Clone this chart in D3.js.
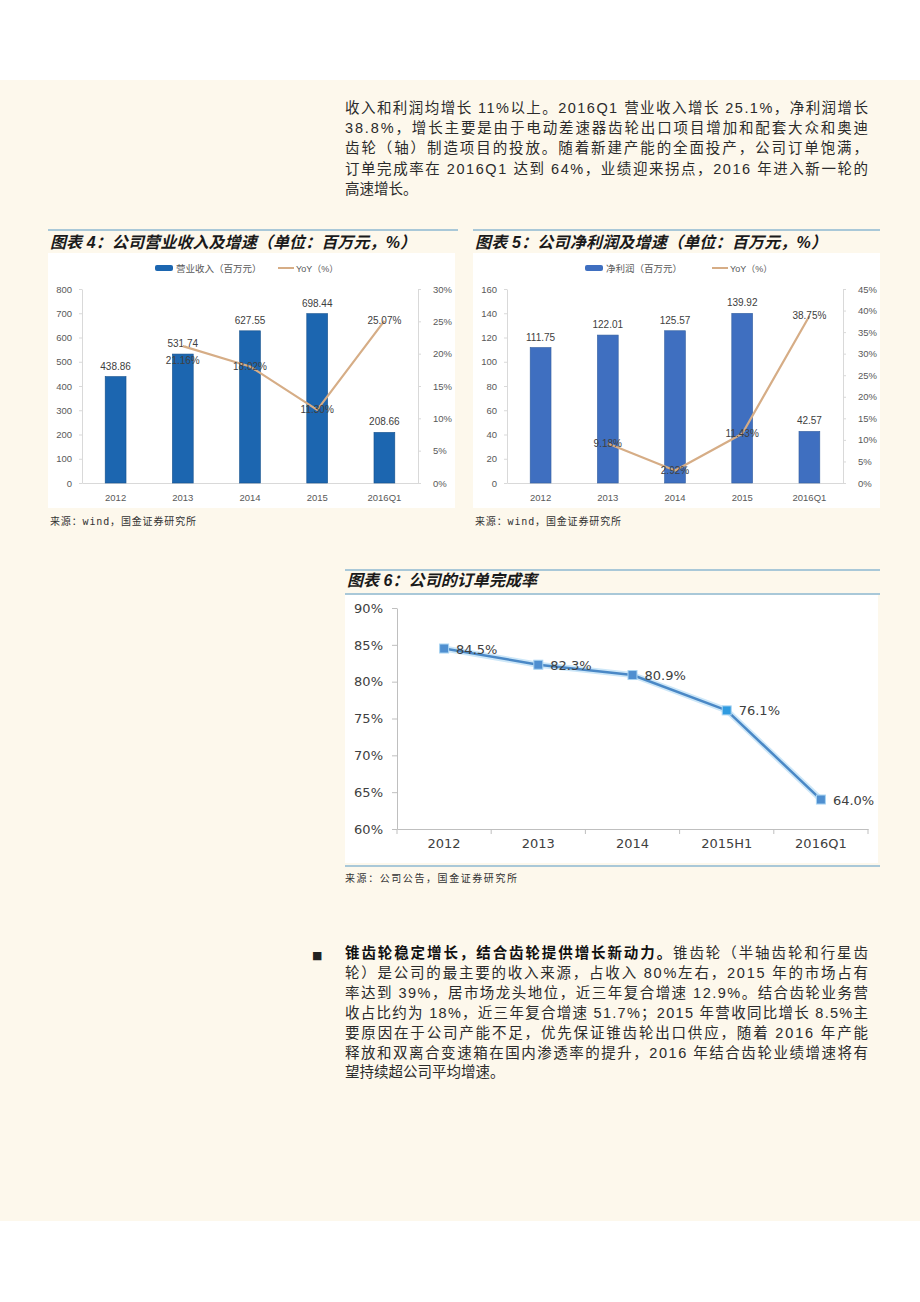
<!DOCTYPE html>
<html><head><meta charset="utf-8">
<script src="https://cdn.jsdelivr.net/npm/d3@7"></script>
<style>body{margin:0;background:#fff}svg{display:block}</style>
</head><body><svg id="page" width="920" height="1302"></svg>
<script>
// ---------- data ----------
const revCats = ["2012","2013","2014","2015","2016Q1"];
const revValues = [438.86, 531.74, 627.55, 698.44, 208.66];
const revYoY = [null, 21.16, 18.02, 11.30, 25.07];
const revLeftTicks = [0,100,200,300,400,500,600,700,800];
const revRightTicks = [0,5,10,15,20,25,30];

const profitCats = ["2012","2013","2014","2015","2016Q1"];
const profitValues = [111.75, 122.01, 125.57, 139.92, 42.57];
const profitYoY = [null, 9.18, 2.92, 11.43, 38.75];
const profitLeftTicks = [0,20,40,60,80,100,120,140,160];
const profitRightTicks = [0,5,10,15,20,25,30,35,40,45];

const orderCats = ["2012","2013","2014","2015H1","2016Q1"];
const orderRate = [84.5, 82.3, 80.9, 76.1, 64.0];
const orderTicks = [60,65,70,75,80,85,90];

const paraTop = [
  "收入和利润均增长 11%以上。2016Q1 营业收入增长 25.1%，净利润增长",
  "38.8%，增长主要是由于电动差速器齿轮出口项目增加和配套大众和奥迪",
  "齿轮（轴）制造项目的投放。随着新建产能的全面投产，公司订单饱满，",
  "订单完成率在 2016Q1 达到 64%，业绩迎来拐点，2016 年进入新一轮的",
  "高速增长。"
];
const bulletHead = "锥齿轮稳定增长，结合齿轮提供增长新动力。";
const paraBullet = [
  "锥齿轮（半轴齿轮和行星齿",
  "轮）是公司的最主要的收入来源，占收入 80%左右，2015 年的市场占有",
  "率达到 39%，居市场龙头地位，近三年复合增速 12.9%。结合齿轮业务营",
  "收占比约为 18%，近三年复合增速 51.7%；2015 年营收同比增长 8.5%主",
  "要原因在于公司产能不足，优先保证锥齿轮出口供应，随着 2016 年产能",
  "释放和双离合变速箱在国内渗透率的提升，2016 年结合齿轮业绩增速将有",
  "望持续超公司平均增速。"
];

// ---------- page ----------
const svg = d3.select("#page");
const CJK = "'Liberation Sans','Noto Sans CJK SC',sans-serif";
const MONO = "'DejaVu Sans Mono','Noto Sans CJK SC',monospace";
svg.append("rect").attr("x",0).attr("y",80).attr("width",920).attr("height",1141).attr("fill","#fdf8ec");

function bodyLine(parts, x, y, justify) {
  const t = svg.append("text").attr("x", x).attr("y", y)
    .attr("fill", "#2b2b2b").style("font-family", CJK).style("font-size", "14.5px");
  parts.forEach(p => t.append("tspan").text(p.t).style("font-weight", p.b ? "bold" : "normal").attr("fill", p.b ? "#111" : null));
  if (justify) t.attr("textLength", 523).attr("lengthAdjust", "spacing");
}
paraTop.forEach((l, i) => bodyLine([{t:l}], 345, 113 + i*20.2, i < paraTop.length-1));
svg.append("text").attr("x",312).attr("y",959).text("■").attr("fill","#222").style("font-size","11px").style("font-family","'DejaVu Sans'");
paraBullet.forEach((l, i) => {
  const parts = i === 0 ? [{t:bulletHead, b:true},{t:l}] : [{t:l}];
  bodyLine(parts, 345, 958 + i*19.9, i < paraBullet.length-1);
});

function divider(x1, x2, y) {
  svg.append("line").attr("x1",x1).attr("x2",x2).attr("y1",y).attr("y2",y)
    .attr("stroke","#8db8d2").attr("stroke-width",1.5);
}
function title(txt, x, y, len) {
  svg.append("text").attr("x",x).attr("y",y).text(txt)
    .attr("fill","#1a1a1a").style("font-family",CJK).style("font-size","16px")
    .style("font-weight","bold").style("font-style","italic")
    .attr("textLength",len).attr("lengthAdjust","spacing");
}
function source(txt, x, y, len) {
  svg.append("text").attr("x",x).attr("y",y).text(txt)
    .attr("fill","#333").style("font-family",MONO).style("font-size","10px")
    .attr("textLength",len).attr("lengthAdjust","spacing");
}

// ---------- combo charts ----------
function combo(o) {
  const g = svg.append("g");
  g.append("rect").attr("x",o.bx).attr("y",253).attr("width",407).attr("height",255).attr("fill","#fff");
  const x = d3.scaleBand().domain(o.cats).range([o.x0, o.x1]).paddingInner(0.69).paddingOuter(0.345);
  const yL = d3.scaleLinear().domain([0, d3.max(o.leftTicks)]).range([483, 289]);
  const yR = d3.scaleLinear().domain([0, d3.max(o.rightTicks)]).range([483, 289]);
  const style = (sel) => {
    sel.attr("font-family", null).attr("font-size", null);
    sel.select(".domain").attr("stroke", "#d9d9d9");
    sel.selectAll(".tick line").attr("stroke", "#d9d9d9");
    sel.selectAll("text").attr("fill", "#595959").style("font-family","'Liberation Sans'").style("font-size","9.5px");
  };
  g.append("g").attr("transform",`translate(${o.x0},0)`)
    .call(d3.axisLeft(yL).tickValues(o.leftTicks).tickSizeInner(3).tickSizeOuter(0).tickPadding(7)).call(style);
  g.append("g").attr("transform",`translate(${o.x1},0)`)
    .call(d3.axisRight(yR).tickValues(o.rightTicks).tickFormat(d => d + "%").tickSizeInner(3).tickSizeOuter(0).tickPadding(12)).call(style);
  g.append("g").attr("transform",`translate(0,483)`)
    .call(d3.axisBottom(x).tickSize(0).tickPadding(11)).call(style);

  const bars = o.cats.map((c, i) => ({c, v: o.vals[i], yoy: o.yoy[i], i}));
  g.selectAll(".bar").data(bars).join("rect")
    .attr("x", d => x(d.c)).attr("width", x.bandwidth())
    .attr("y", d => yL(d.v)).attr("height", d => 483 - yL(d.v))
    .attr("fill", o.barColor).attr("stroke", o.barEdge).attr("stroke-width", 0.6);
  g.selectAll(".bl").data(bars).join("text")
    .attr("x", d => x(d.c) + x.bandwidth()/2).attr("y", d => yL(d.v) - 7)
    .attr("text-anchor","middle").text(d => d.v.toFixed(2))
    .attr("fill","#404040").style("font-family","'Liberation Sans'").style("font-size","10px");
  const line = d3.line().defined(d => d.yoy != null)
    .x(d => x(d.c) + x.bandwidth()/2).y(d => yR(d.yoy));
  g.append("path").datum(bars).attr("d", line).attr("fill","none")
    .attr("stroke","#d6ad86").attr("stroke-width",2.2).attr("stroke-linejoin","round");
  g.selectAll(".yl").data(bars.filter(d => d.yoy != null)).join("text")
    .attr("x", d => x(d.c) + x.bandwidth()/2).attr("y", d => yR(d.yoy) + 3.5 + (o.labelDy[d.i] || 0))
    .attr("text-anchor","middle").text(d => d.yoy.toFixed(2) + "%")
    .attr("fill","#404040").style("font-family","'Liberation Sans'").style("font-size","10px");
  // legend
  g.append("rect").attr("x",o.lgx).attr("y",265).attr("width",18).attr("height",6).attr("rx",2).attr("fill",o.barColor);
  g.append("text").attr("x",o.lgx+21).attr("y",271.5).text(o.legendBar)
    .attr("fill","#595959").style("font-family",CJK).style("font-size","9.5px");
  g.append("line").attr("x1",o.lgx2).attr("x2",o.lgx2+16).attr("y1",268).attr("y2",268)
    .attr("stroke","#d6ad86").attr("stroke-width",2);
  g.append("text").attr("x",o.lgx2+18).attr("y",271.5).text("YoY（%）")
    .attr("fill","#595959").style("font-family",CJK).style("font-size","9px");
}

divider(48, 458, 230);
title("图表 4：公司营业收入及增速（单位：百万元，%）", 50, 248, 366);
combo({bx:48, x0:82, x1:418, cats:revCats, vals:revValues, yoy:revYoY,
  leftTicks:revLeftTicks, rightTicks:revRightTicks, barColor:"#1c66b0", barEdge:"#15508c",
  legendBar:"营业收入（百万元）", lgx:155, lgx2:278, labelDy:[0,14,0,0,0]});
source("来源：wind，国金证券研究所", 50, 525, 146);

divider(473, 880, 230);
title("图表 5：公司净利润及增速（单位：百万元，%）", 475, 248, 352);
combo({bx:473, x0:507, x1:843, cats:profitCats, vals:profitValues, yoy:profitYoY,
  leftTicks:profitLeftTicks, rightTicks:profitRightTicks, barColor:"#3f6fc0", barEdge:"#35609f",
  legendBar:"净利润（百万元）", lgx:585, lgx2:712, labelDy:[0,0,0,0,0]});
source("来源：wind，国金证券研究所", 475, 525, 146);

// ---------- order completion chart ----------
(function(){
  const g = svg.append("g");
  g.append("rect").attr("x",345).attr("y",595).attr("width",533).attr("height",268).attr("fill","#fff");
  const x = d3.scaleBand().domain(orderCats).range([397, 868]);
  const y = d3.scaleLinear().domain([60, 90]).range([829, 608]);
  const st = (sel) => {
    sel.attr("font-family", null).attr("font-size", null);
    sel.select(".domain").attr("stroke","#bfbfbf");
    sel.selectAll(".tick line").attr("stroke","#bfbfbf");
    sel.selectAll("text").attr("fill","#404040").style("font-family","'DejaVu Sans'").style("font-size","13px");
  };
  g.append("g").attr("transform","translate(397,0)")
    .call(d3.axisLeft(y).tickValues(orderTicks).tickFormat(d => d + "%").tickSizeInner(5).tickSizeOuter(0).tickPadding(9)).call(st);
  g.append("g").attr("transform","translate(0,829)")
    .call(d3.axisBottom(x).tickSize(0).tickPadding(10)).call(st);
  const edges = orderCats.map(c => x(c)).concat([x.range()[1]]);
  g.selectAll(".edge").data(edges).join("line")
    .attr("x1", d => d).attr("x2", d => d).attr("y1", 829).attr("y2", 834).attr("stroke","#bfbfbf");
  const pts = orderCats.map((c, i) => ({c, v: orderRate[i], i}));
  const line = d3.line().x(d => x(d.c) + x.bandwidth()/2).y(d => y(d.v));
  g.append("path").datum(pts).attr("d", line).attr("fill","none")
    .attr("stroke","#cde7f8").attr("stroke-width",6).attr("stroke-linejoin","round");
  g.append("path").datum(pts).attr("d", line).attr("fill","none")
    .attr("stroke","#4a88c6").attr("stroke-width",2.5).attr("stroke-linejoin","round");
  g.selectAll(".mk").data(pts).join("rect")
    .attr("x", d => x(d.c) + x.bandwidth()/2 - 4.5).attr("y", d => y(d.v) - 4.5)
    .attr("width", 9).attr("height", 9)
    .attr("fill", d => d.i === 3 ? "#2f9be0" : "#4f8fd0").attr("stroke","#a9d4f2").attr("stroke-width",1);
  g.selectAll(".lb").data(pts).join("text")
    .attr("x", d => x(d.c) + x.bandwidth()/2 + 12).attr("y", d => y(d.v) + 5)
    .text(d => d.v.toFixed(1) + "%")
    .attr("fill","#404040").style("font-family","'DejaVu Sans'").style("font-size","13px");
})();
divider(345, 880, 570);
title("图表 6：公司的订单完成率", 347, 586, 190);
divider(345, 880, 594);
divider(345, 880, 866);
source("来源：公司公告，国金证券研究所", 345, 882, 172);
</script></body></html>
